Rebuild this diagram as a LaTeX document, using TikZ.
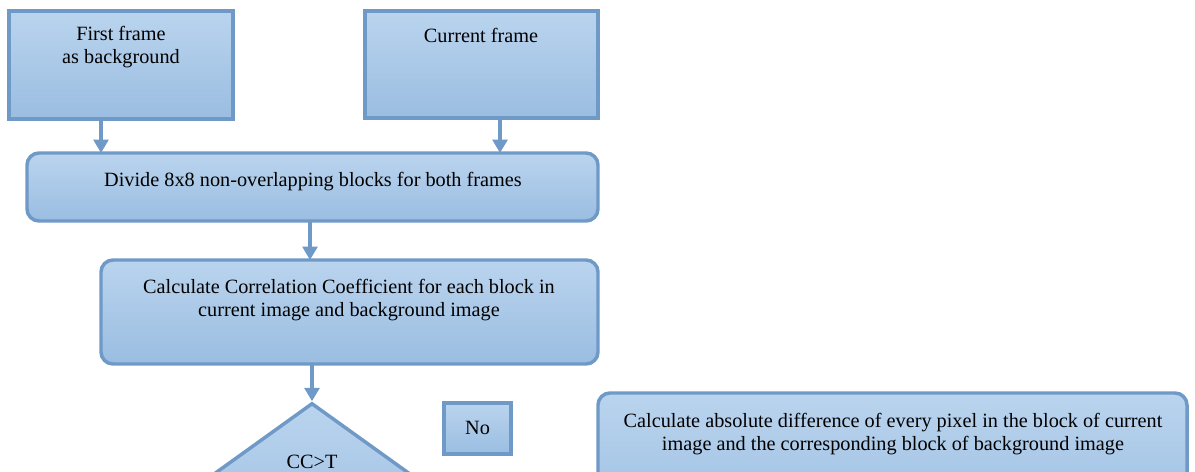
\documentclass[tikz,border=0pt]{standalone}
\usepackage{fontspec}
\setmainfont{Liberation Serif}
\usetikzlibrary{shapes.geometric,arrows.meta}
\definecolor{edgeblue}{HTML}{6F99C6}
\definecolor{topblue}{HTML}{BAD4EE}
\definecolor{botblue}{HTML}{9ABDE1}
\tikzset{
  pbox/.style={draw=edgeblue, line width=2.6pt, top color=topblue, bottom color=botblue, inner sep=0pt},
  sqbox/.style={pbox},
  rbox/.style={pbox, rounded corners=9pt},
  lbl/.style={font=\fontsize{15.2pt}{17.4pt}\selectfont, align=center, inner sep=0pt},
  conn/.style={draw=edgeblue, line width=2.6pt, -{Triangle[width=11pt,length=10pt]}},
}
\begin{document}
\begin{tikzpicture}[x=0.75pt,y=-0.75pt]
\useasboundingbox (0,0) rectangle (1195,471);
\clip (0,0) rectangle (1195,471);
% boxes
\path[sqbox] (9,11) rectangle (233,119);
\node[lbl, anchor=north] (a) at (121,26) {First frame\\as background};
\coordinate (abot) at (101,119);
\path[sqbox] (365,11) rectangle (598,118);
\node[lbl, anchor=north] (b) at (481,28) {Current frame};
\coordinate (bbot) at (500,118);
\path[rbox] (27,153) rectangle (598,221);
\node[lbl] (c) at (313,182) {Divide 8x8 non-overlapping blocks for both frames};
\coordinate (ctopl) at (101,153);
\coordinate (ctopr) at (500,153);
\coordinate (cbot) at (310,221);
\path[rbox] (101,260) rectangle (598,364);
\node[lbl] (d) at (349,300) {Calculate Correlation Coefficient for each block in\\current image and background image};
\coordinate (dtop) at (310,260);
\coordinate (dbot) at (312,364);
\node[draw=edgeblue, line width=2.6pt, top color=topblue, bottom color=botblue, diamond, minimum width=214*0.75pt, minimum height=154*0.75pt, inner sep=0pt] (dia) at (312,480) {};
\node[lbl] (cc) at (312,462) {CC>T};
\path[sqbox] (444,403) rectangle (511,454);
\node[lbl] (no) at (477.5,428) {No};
\path[rbox] (598,393) rectangle (1187,540);
\node[lbl] (e) at (893,434) {Calculate absolute difference of every pixel in the block of current\\image and the corresponding block of background image};
% connectors
\draw[conn] (abot) -- (ctopl);
\draw[conn] (bbot) -- (ctopr);
\draw[conn] (cbot) -- (dtop);
\draw[conn] (dbot) -- (dia.north);
\end{tikzpicture}
\end{document}
